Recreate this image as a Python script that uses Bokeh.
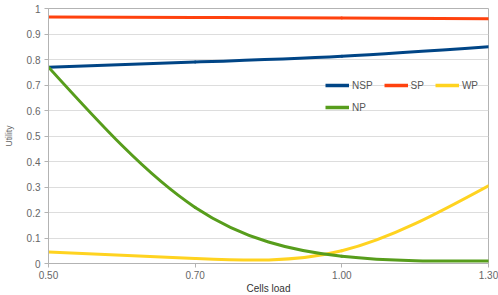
import numpy as np
from bokeh.plotting import figure
from bokeh.models import Range1d, FixedTicker, Legend, LegendItem
from bokeh.embed import file_html
from bokeh.resources import INLINE

# ---- data ----
cells_load = ["0.50", "0.70", "1.00", "1.30"]
nsp = [0.770, 0.790, 0.813, 0.850]
sp = [0.967, 0.965, 0.963, 0.960]
wp = [0.045, 0.020, 0.050, 0.305]
np_ = [0.770, 0.220, 0.028, 0.010]
y_ticks = [0, 0.1, 0.2, 0.3, 0.4, 0.5, 0.6, 0.7, 0.8, 0.9, 1]
y_tick_labels = ["0", "0.1", "0.2", "0.3", "0.4", "0.5", "0.6", "0.7", "0.8", "0.9", "1"]

series = [("NSP", nsp, "#004586"), ("SP", sp, "#ff420e"),
          ("WP", wp, "#ffd320"), ("NP", np_, "#579d1c")]

FONT = "Liberation Sans"


def spline_bezier(xs, ys):
    """Control points of a natural cubic spline (unit spacing) as Bezier segments."""
    xs = np.asarray(xs, float)
    ys = np.asarray(ys, float)
    n = len(ys)
    A = np.zeros((n, n))
    rhs = np.zeros(n)
    A[0, 0] = 1
    A[-1, -1] = 1
    for i in range(1, n - 1):
        A[i, i - 1], A[i, i], A[i, i + 1] = 1, 4, 1
        rhs[i] = 6 * (ys[i + 1] - 2 * ys[i] + ys[i - 1])
    M = np.linalg.solve(A, rhs)
    m = np.zeros(n)
    for i in range(n - 1):
        m[i] = (ys[i + 1] - ys[i]) - (2 * M[i] + M[i + 1]) / 6
    m[-1] = (ys[-1] - ys[-2]) + (M[-2] + 2 * M[-1]) / 6
    return dict(x0=xs[:-1], y0=ys[:-1], x1=xs[1:], y1=ys[1:],
                cx0=xs[:-1] + 1 / 3, cy0=ys[:-1] + m[:-1] / 3,
                cx1=xs[1:] - 1 / 3, cy1=ys[1:] - m[1:] / 3)


x_idx = list(range(len(cells_load)))

p = figure(frame_width=440, frame_height=255,
           min_border_left=47, min_border_right=11, min_border_top=8, min_border_bottom=0,
           x_range=Range1d(0, len(cells_load) - 1), y_range=Range1d(0, 1),
           output_backend="svg", toolbar_location=None,
           background_fill_color="white", border_fill_color="white")

p.outline_line_color = "#b3b3b3"
p.outline_line_width = 1

# grid
p.xgrid.visible = False
p.ygrid.ticker = FixedTicker(ticks=y_ticks)
p.ygrid.grid_line_color = "#dddddd"
p.ygrid.grid_line_width = 1

# axes
p.xaxis.ticker = FixedTicker(ticks=x_idx)
p.xaxis.major_label_overrides = {i: lab for i, lab in zip(x_idx, cells_load)}
p.yaxis.ticker = FixedTicker(ticks=y_ticks)
p.yaxis.major_label_overrides = {t: lab for t, lab in zip(y_ticks, y_tick_labels)}
for ax in (p.xaxis[0], p.yaxis[0]):
    ax.axis_line_color = "#b3b3b3"
    ax.major_tick_line_color = "#b3b3b3"
    ax.major_tick_in = 0
    ax.major_tick_out = 4
    ax.minor_tick_line_color = None
    ax.major_label_text_font = FONT
    ax.major_label_text_font_size = "10px"
    ax.major_label_text_color = "#666666"
    ax.major_label_standoff = 4
p.xaxis.major_label_standoff = 3

p.yaxis.axis_label = "Utility"
p.yaxis.axis_label_text_font = FONT
p.yaxis.axis_label_text_font_size = "8.5px"
p.yaxis.axis_label_text_font_style = "normal"
p.yaxis.axis_label_text_color = "#666666"
p.yaxis.axis_label_standoff = 10

p.xaxis.axis_label = "Cells load"
p.xaxis.axis_label_text_font = FONT
p.xaxis.axis_label_text_font_size = "10px"
p.xaxis.axis_label_text_font_style = "normal"
p.xaxis.axis_label_text_color = "#333333"
p.xaxis.axis_label_standoff = 1

legend_renderers = {}
for name, vals, color in series:
    p.bezier(line_color=color, line_width=3, line_cap="round", **spline_bezier(x_idx, vals))
    legend_renderers[name] = p.line(x=[np.nan, np.nan], y=[np.nan, np.nan],
                                    line_color=color, line_width=3.5)


def make_legend(names, loc):
    lg = Legend(items=[LegendItem(label=n, renderers=[legend_renderers[n]]) for n in names],
                location=loc, orientation="horizontal",
                glyph_width=24, glyph_height=20, label_height=20, label_width=10,
                label_standoff=3, spacing=11, padding=0, margin=0,
                border_line_color=None, background_fill_alpha=0,
                label_text_font=FONT, label_text_font_size="10px",
                label_text_color="#555555")
    p.add_layout(lg, "center")


make_legend(["NSP", "SP", "WP"], (277, 168))
make_legend(["NP"], (277, 146))

open("out.html", "w").write(file_html(p, INLINE))
